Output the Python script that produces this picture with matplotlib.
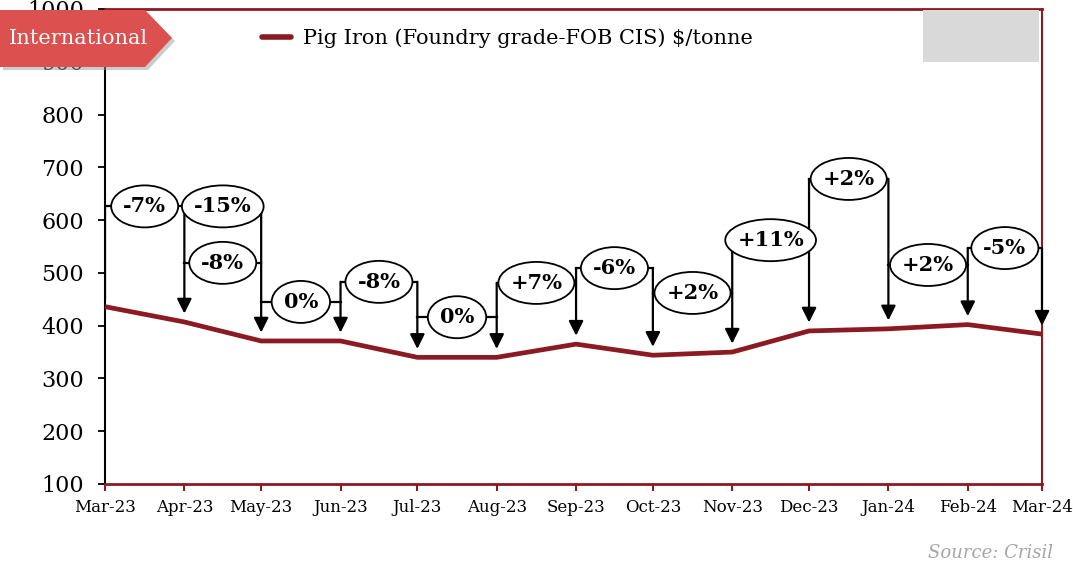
import datetime as dt
import matplotlib
matplotlib.use("Agg")
import matplotlib.pyplot as plt
import matplotlib.dates as mdates
from matplotlib.patches import Polygon, Rectangle, Ellipse

# --- data ---
months = ["2023-03", "2023-04", "2023-05", "2023-06", "2023-07", "2023-08", "2023-09",
          "2023-10", "2023-11", "2023-12", "2024-01", "2024-02", "2024-03"]
pig_iron = [436, 407, 371, 371, 340, 340, 365, 344, 350, 390, 394, 402, 384]

# change labels: (from month index, text, bracket level in $/tonne)
change_from = [0, 1, 1, 2, 3, 4, 5, 6, 7, 8, 9, 10, 11]
change_text = ["-7%", "-15%", "-8%", "0%", "-8%", "0%", "+7%", "-6%", "+2%",
               "+11%", "+2%", "+2%", "-5%"]
change_level = [626, 626, 519, 445, 483, 416, 481, 509, 462, 562, 678, 515, 547]

RED = "#8B1A22"
W, H = 1073, 567

plt.rcParams["font.family"] = ["DejaVu Serif"]

dates = [dt.datetime.strptime(m, "%Y-%m") for m in months]
xn = mdates.date2num(dates)

fig = plt.figure(figsize=(W / 100, H / 100), dpi=100)
ax = fig.add_axes([105 / W, 1 - 484 / H, (1042 - 105) / W, (484 - 9) / H])

ax.plot(xn, pig_iron, color=RED, lw=3.4, solid_capstyle="butt", zorder=3)

ax.set_xlim(xn[0], xn[-1])
ax.set_ylim(100, 1000)
ax.set_yticks(range(100, 1001, 100))
ax.set_xticks(xn)
ax.set_xticklabels([d.strftime("%b-%y") for d in dates], fontsize=12)
ax.tick_params(axis="y", labelsize=16, length=5, width=1.3, color="black", pad=10)
ax.tick_params(axis="x", length=5, width=1.5, color=RED, pad=6)

ax.spines["left"].set_color("black")
ax.spines["left"].set_linewidth(1.5)
for s in ["bottom", "top"]:
    ax.spines[s].set_color(RED)
    ax.spines[s].set_linewidth(2)
ax.spines["right"].set_color(RED)
ax.spines["right"].set_linewidth(1.5)

# --- change brackets ---
tops = {}
for i, lvl in zip(change_from, change_level):
    tops[i] = max(tops.get(i, 0), lvl)
    tops[i + 1] = max(tops.get(i + 1, 0), lvl)

labels = []
for i, txt, lvl in zip(change_from, change_text, change_level):
    ax.plot([xn[i], xn[i + 1]], [lvl, lvl], color="black", lw=1.6, zorder=4)
    cx = (xn[i] + xn[i + 1]) / 2
    t = ax.text(cx, lvl, txt, ha="center", va="center",
                fontsize=15, fontweight="bold", zorder=7)
    labels.append((t, cx, lvl))

for i, top in tops.items():
    tip = pig_iron[i] + 16
    if i == 0:
        ax.plot([xn[i], xn[i]], [top, tip], color="black", lw=1.6, zorder=4)
    else:
        ax.annotate("", xy=(xn[i], tip), xytext=(xn[i], top),
                    arrowprops=dict(arrowstyle="-|>", color="black", lw=1.6,
                                    mutation_scale=22, shrinkA=0, shrinkB=0),
                    zorder=5)

# ellipses sized to the label text
fig.canvas.draw()
r = fig.canvas.get_renderer()
inv = ax.transData.inverted()
for t, cx, lvl in labels:
    bb = t.get_window_extent(r)
    wpx, hpx = bb.width + 24, 42
    x0, y0 = inv.transform((0, 0))
    x1, y1 = inv.transform((wpx, hpx))
    ax.add_patch(Ellipse((cx, lvl), x1 - x0, y1 - y0, fc="white", ec="black",
                         lw=1.3, zorder=6))

# --- legend ---
fig.add_artist(plt.Line2D([262 / W, 291 / W], [1 - 37 / H, 1 - 37 / H], color=RED,
                          lw=4, solid_capstyle="round"))
fig.text(303 / W, 1 - 38 / H, "Pig Iron (Foundry grade-FOB CIS) $/tonne",
         fontsize=15, va="center", ha="left")

# grey box top right
fig.add_artist(Rectangle((923 / W, 1 - 62 / H), 116 / W, 52 / H,
                         transform=fig.transFigure, fc="#d9d9d9", ec="none", zorder=2))

# "International" tag
def px(x, y):
    return (x / W, 1 - y / H)

outline = [(0, 10), (145, 10), (172, 38), (145, 67), (0, 67)]
shadow = [px(x + 3, y + 3) for x, y in outline]
fig.add_artist(Polygon(shadow, closed=True, transform=fig.transFigure,
                       fc="#9a9a9a", ec="none", alpha=0.5, zorder=9))
tag = [px(x, y) for x, y in outline]
fig.add_artist(Polygon(tag, closed=True, transform=fig.transFigure,
                       fc="#DC5050", ec="none", zorder=10))
fig.text(78 / W, 1 - 39 / H, "International", color="white", fontsize=15,
         ha="center", va="center", zorder=11)

fig.text(1053 / W, 1 - 553 / H, "Source: Crisil", color="#a6a6a6", fontsize=13,
         style="italic", ha="right", va="center")

fig.savefig("out.png", dpi=100)
